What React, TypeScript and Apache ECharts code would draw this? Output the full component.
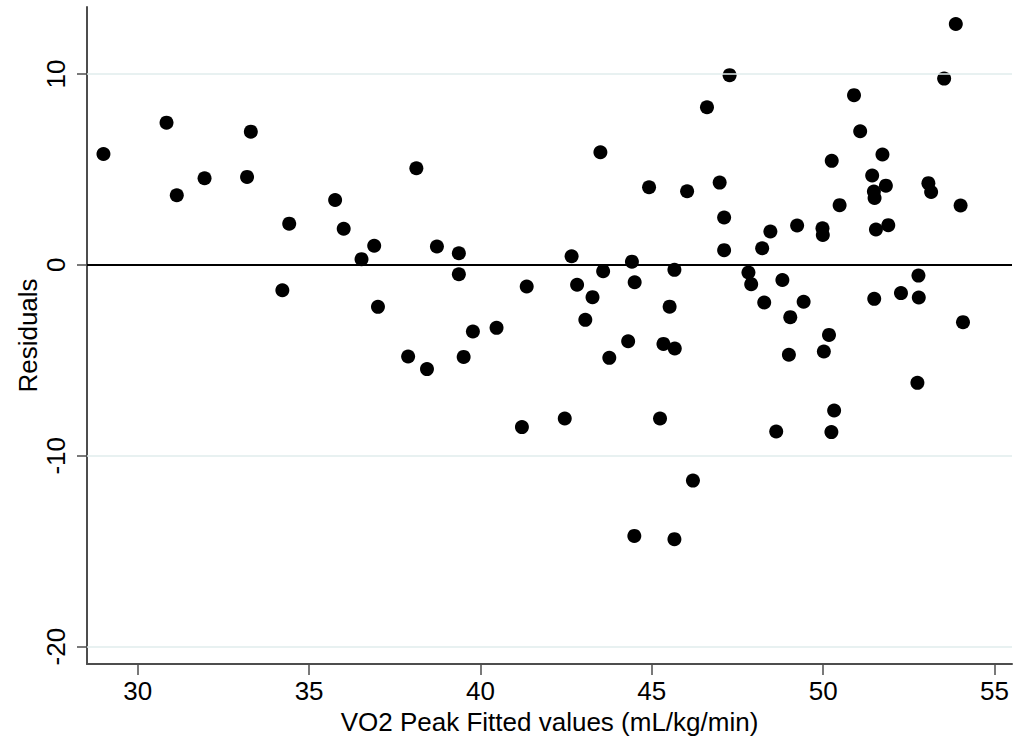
import { useRef, useEffect } from 'react';
import * as echarts from 'echarts';

// VO2 peak fitted values (x) and residuals (y)
const fittedValues: number[] = [
    29.00, 30.84, 31.14, 31.95, 33.30, 33.19, 34.42, 34.22, 35.76, 36.01,
    38.13, 36.90, 36.53, 37.01, 38.73, 39.37, 39.37, 41.35, 42.66, 42.82,
    43.06, 37.89, 38.44, 39.78, 40.47, 39.51, 41.21, 42.46, 47.27, 46.61,
    43.50, 44.92, 46.03, 46.98, 47.11, 47.11, 48.46, 48.22, 49.24, 44.42,
    43.58, 45.66, 44.50, 43.27, 45.52, 47.82, 47.90, 48.81, 48.28, 49.43,
    44.31, 43.76, 45.34, 45.67, 49.04, 49.00, 45.24, 48.63, 46.20, 44.49,
    45.66, 53.87, 53.53, 50.90, 51.08, 50.25, 51.73, 51.43, 51.83, 51.48,
    51.50, 53.07, 53.15, 50.48, 54.01, 49.98, 49.99, 51.54, 51.90, 52.78,
    51.49, 52.27, 52.79, 54.08, 50.17, 50.02, 52.75, 50.32, 50.24,
];

const residuals: number[] = [
    5.81, 7.45, 3.65, 4.54, 6.98, 4.61, 2.16, -1.33, 3.40, 1.89,
    5.06, 1.00, 0.30, -2.20, 0.96, 0.61, -0.49, -1.13, 0.45, -1.04,
    -2.88, -4.80, -5.46, -3.49, -3.30, -4.82, -8.50, -8.05, 9.94, 8.26,
    5.90, 4.07, 3.86, 4.31, 2.48, 0.77, 1.75, 0.87, 2.06, 0.17,
    -0.33, -0.26, -0.91, -1.69, -2.19, -0.40, -1.01, -0.79, -1.97, -1.93,
    -4.00, -4.87, -4.14, -4.38, -2.74, -4.71, -8.05, -8.73, -11.30, -14.20,
    -14.37, 12.62, 9.76, 8.89, 7.00, 5.45, 5.78, 4.68, 4.15, 3.84,
    3.51, 4.28, 3.82, 3.13, 3.11, 1.92, 1.57, 1.85, 2.08, -0.56,
    -1.78, -1.48, -1.71, -3.00, -3.67, -4.54, -6.18, -7.63, -8.76,
];

const xTicks: number[] = [30, 35, 40, 45, 50, 55];
const yTicks: number[] = [-20, -10, 0, 10];
const gridValues: number[] = [10, -10, -20];

const FONT = '"Liberation Sans", Arial, Helvetica, sans-serif';

const App: React.FC = () => {
    const chartRef = useRef<HTMLDivElement>(null);

    useEffect(() => {
        if (chartRef.current) {
            const chart = echarts.init(chartRef.current, null, { renderer: 'svg' });
            const points = fittedValues.map((x, i) => [x, residuals[i]]);

            const option: echarts.EChartsOption = {
                animation: false,
                backgroundColor: '#ffffff',
                textStyle: { fontFamily: FONT },
                grid: {
                    left: 87,
                    right: 2,
                    top: 7,
                    bottom: 80,
                },
                xAxis: {
                    type: 'value',
                    min: 28.52,
                    max: 55.51,
                    name: 'VO2 Peak Fitted values (mL/kg/min)',
                    nameLocation: 'middle',
                    nameGap: 44,
                    nameTextStyle: { fontSize: 26, color: '#000', fontFamily: FONT },
                    axisLine: {
                        onZero: false,
                        lineStyle: { color: '#4d4d4d', width: 2 },
                    },
                    axisTick: {
                        show: true,
                        customValues: xTicks,
                        length: 11,
                        lineStyle: { color: '#4d4d4d', width: 1.5 },
                    },
                    axisLabel: {
                        customValues: xTicks,
                        fontSize: 26,
                        color: '#000',
                        margin: 14,
                        fontFamily: FONT,
                    },
                    splitLine: { show: false },
                },
                yAxis: {
                    type: 'value',
                    min: -20.91,
                    max: 13.51,
                    name: 'Residuals',
                    nameLocation: 'middle',
                    nameGap: 46,
                    nameMoveOverlap: false,
                    nameTextStyle: { fontSize: 26, color: '#000', fontFamily: FONT },
                    axisLine: {
                        show: true,
                        onZero: false,
                        lineStyle: { color: '#4d4d4d', width: 2 },
                    },
                    axisTick: {
                        show: true,
                        customValues: yTicks,
                        length: 10,
                        lineStyle: { color: '#4d4d4d', width: 1.5 },
                    },
                    axisLabel: {
                        customValues: yTicks,
                        rotate: 90,
                        fontSize: 26,
                        color: '#000',
                        margin: 18,
                        fontFamily: FONT,
                    },
                    splitLine: { show: false },
                },
                series: [
                    {
                        type: 'line',
                        data: [],
                        silent: true,
                        markLine: {
                            silent: true,
                            symbol: 'none',
                            label: { show: false },
                            lineStyle: { color: '#e0eded', width: 1.5, type: 'solid' },
                            data: gridValues.map((v) => ({ yAxis: v })),
                        },
                    },
                    {
                        type: 'scatter',
                        symbol: 'circle',
                        symbolSize: 14,
                        itemStyle: { color: '#000000', opacity: 1 },
                        data: points,
                        z: 3,
                        markLine: {
                            silent: true,
                            symbol: 'none',
                            label: { show: false },
                            lineStyle: { color: '#000000', width: 2, type: 'solid' },
                            data: [{ yAxis: 0 }],
                        },
                    },
                ],
            };

            chart.setOption(option);

            return () => {
                chart.dispose();
            };
        }
    }, []);

    return (
        <div
            ref={chartRef}
            style={{ position: 'absolute', left: 0, top: 0, width: '1014px', height: '744px' }}
        />
    );
};

export default App;
